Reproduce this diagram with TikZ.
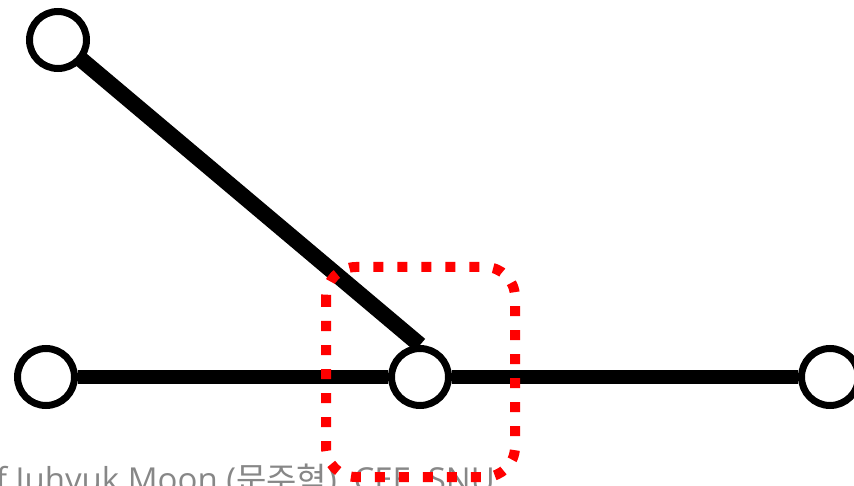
\documentclass[tikz,border=0pt]{standalone}
\usepackage{fontspec}
\newfontfamily\latinfont{Open Sans}
\newfontfamily\krfont{Noto Sans CJK KR}
\usetikzlibrary{backgrounds}
\definecolor{creditgray}{RGB}{135,135,135}
\begin{document}
\begin{tikzpicture}[x=1pt,y=-1pt,
    station/.style={circle,draw=black,fill=white,line width=7pt,minimum size=57pt,inner sep=0pt},
    track/.style={line width=14pt},
    focus/.style={draw=red,line width=10pt,dash pattern=on 10pt off 14pt,rounded corners=30pt}]
    \useasboundingbox (0,0) rectangle (854,486);
    \clip (0,0) rectangle (854,486);

    \node[station] (top) at (58,40) {};
    \node[station] (left) at (46,377) {};
    \node[station] (mid) at (420,377) {};
    \node[station] (right) at (830,377) {};

    \begin{scope}[on background layer]
        \draw[track] (left) -- (mid) -- (right);
        \draw[track,line width=16pt] (top.center) -- (mid.north);
    \end{scope}

    \node[anchor=base east,text=creditgray,font=\latinfont\fontsize{33}{40}\selectfont,inner sep=0pt]
        (credit) at (495,491) {Courtesy of Juhyuk Moon ({\krfont 문주혁}), CEE, SNU};

    \draw[focus] (326,267) rectangle (515,477);
\end{tikzpicture}
\end{document}
